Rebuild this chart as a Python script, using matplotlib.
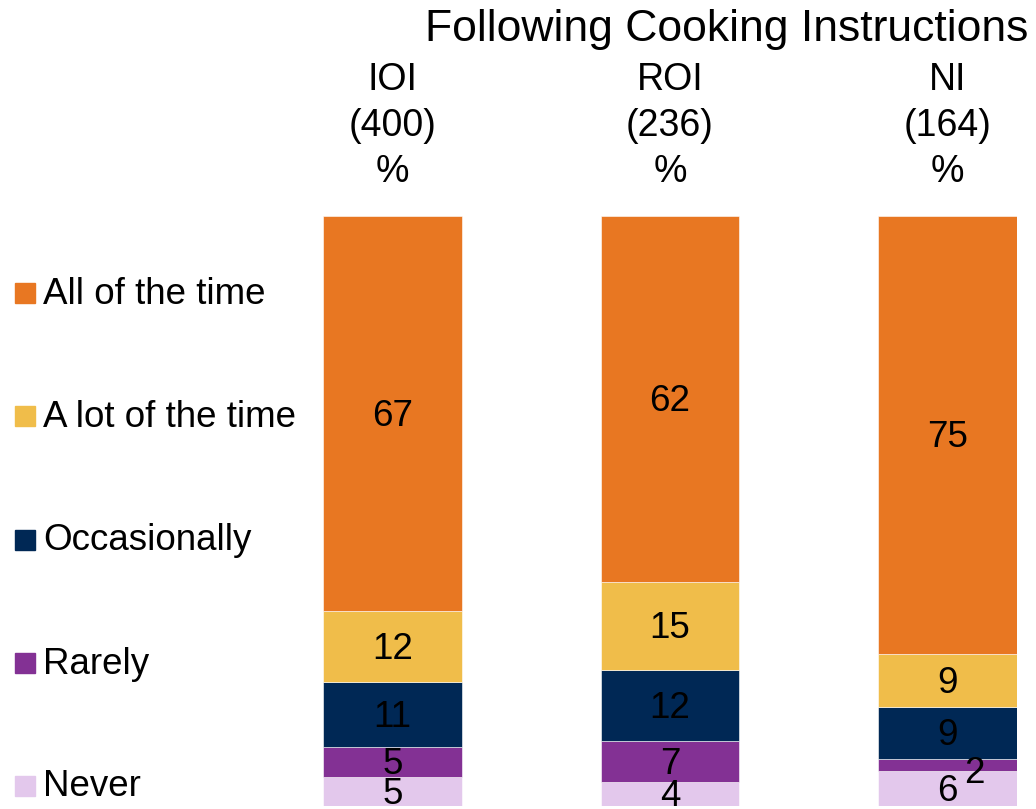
import numpy as np
import matplotlib.pyplot as plt
from matplotlib.patches import Rectangle

plt.rcParams['font.family'] = ['Liberation Sans', 'DejaVu Sans']

#### Data ####

groups = ['IOI', 'ROI', 'NI']
bases = [400, 236, 164]
categories = ['Never', 'Rarely', 'Occasionally', 'A lot of the time', 'All of the time']
never = [5, 4, 6]
rarely = [5, 7, 2]
occasionally = [11, 12, 9]
a_lot = [12, 15, 9]
all_time = [67, 62, 75]
colors = ['#E3C8EC', '#833194', '#002855', '#F0BD4A', '#E87722']

#### Plot ####

series = np.array([never, rarely, occasionally, a_lot, all_time], dtype=float)
shares = series / series.sum(axis=0) * 100  # 100% stacked

fig = plt.figure(figsize=(10.36, 8.09), dpi=100)
ax = fig.add_axes([323 / 1036, 3 / 809, 694 / 1036, 590 / 809])

x = np.arange(len(groups))
bottom = np.zeros(len(groups))
for k, cat in enumerate(categories):
    ax.bar(x, shares[k], 0.5, bottom=bottom, color=colors[k],
           edgecolor='white', linewidth=0.4)
    for i in range(len(groups)):
        val = series[k, i]
        cy = bottom[i] + shares[k, i] / 2
        dx, dy = 0, -2
        if val < 3:
            dx, dy = 19, -6  # small slice: label pushed aside
        ax.annotate(f'{val:.0f}', (x[i], cy), xytext=(dx, dy),
                    textcoords='offset points', ha='center', va='center',
                    fontsize=26.5, color='black', annotation_clip=False)
    bottom += shares[k]

ax.set_xlim(-0.25, 2.25)
ax.set_ylim(0, 100)
ax.axis('off')

# column headers
for i, g in enumerate(groups):
    ax.text(x[i], 123, g, ha='center', va='center', fontsize=27, clip_on=False)
    ax.text(x[i], 115.3, f'({bases[i]})', ha='center', va='center', fontsize=27, clip_on=False)
    ax.text(x[i], 107.5, '%', ha='center', va='center', fontsize=27, clip_on=False)

fig.text(727 / 1036, 1 - 29 / 809, 'Following Cooking Instructions',
         ha='center', va='center', fontsize=32)

# legend on the left
leg_y = [786, 663, 540, 416, 293]
for k, cat in enumerate(categories):
    yy = leg_y[k]
    fig.patches.append(Rectangle((15 / 1036, 1 - (yy + 10) / 809), 20 / 1036, 20 / 809,
                                 transform=fig.transFigure, color=colors[k]))
    fig.text(43 / 1036, 1 - (yy + 1) / 809, cat, ha='left', va='center', fontsize=26.5)

plt.savefig('out.png', dpi=100)
